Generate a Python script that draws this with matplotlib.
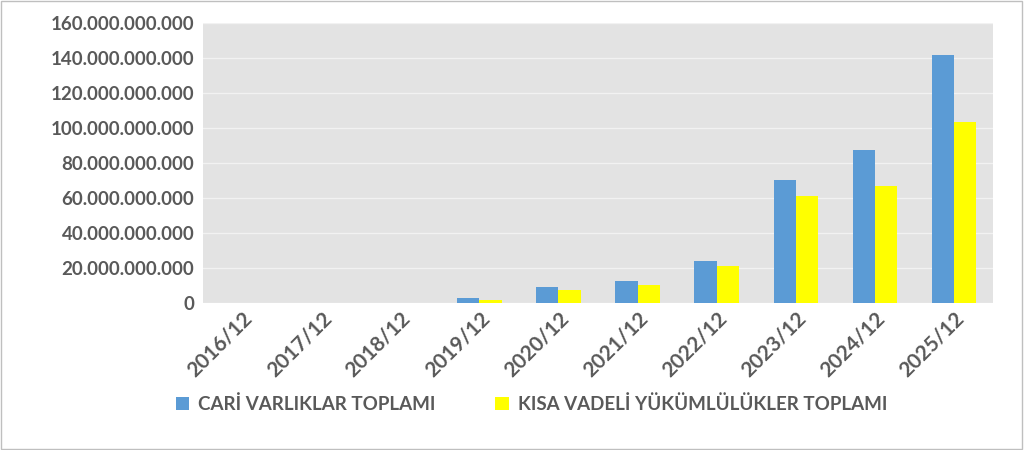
import matplotlib.pyplot as plt
import numpy as np
from matplotlib.ticker import FuncFormatter

# Data
years = ["2016/12", "2017/12", "2018/12", "2019/12", "2020/12",
         "2021/12", "2022/12", "2023/12", "2024/12", "2025/12"]
cari_varliklar = [0.05e9, 0.08e9, 0.12e9, 2.5e9, 9.1e9,
                  12.6e9, 24.0e9, 70.3e9, 87.4e9, 141.7e9]
kisa_vadeli = [0.05e9, 0.06e9, 0.1e9, 1.6e9, 7.4e9,
               10.3e9, 21.0e9, 61.0e9, 67.0e9, 103.4e9]
yticks = np.arange(0, 160e9 + 1, 20e9)

plt.rcParams['font.family'] = ['Lato', 'DejaVu Sans']
text_color = '#595959'

fig = plt.figure(figsize=(10.24, 4.5), dpi=100)
ax = fig.add_axes([0.198, 0.327, 0.772, 0.622])
fig.patches.append(plt.Rectangle((0.001, 0.002), 0.997, 0.995, transform=fig.transFigure,
                                 fill=False, edgecolor='#bfbfbf', linewidth=1))

x = np.arange(len(years))
w = 0.28
ax.bar(x - w / 2, cari_varliklar, w, color='#5B9BD5', label='CARİ VARLIKLAR TOPLAMI', zorder=3)
ax.bar(x + w / 2, kisa_vadeli, w, color='#FFFF00', label='KISA VADELİ YÜKÜMLÜLÜKLER TOPLAMI', zorder=3)

ax.set_facecolor('#e3e3e3')
ax.set_xlim(-0.5, len(years) - 0.5)
ax.set_ylim(0, 160e9)
ax.set_yticks(yticks)
ax.yaxis.set_major_formatter(FuncFormatter(lambda v, p: f"{int(v):,}".replace(",", ".")))
ax.grid(axis='y', color='#f2f2f2', linewidth=1, zorder=0)
for s in ax.spines.values():
    s.set_visible(False)
ax.tick_params(axis='y', length=0, labelsize=13.5, labelcolor=text_color, pad=6)
ax.tick_params(axis='x', length=0, labelsize=15, labelcolor=text_color, pad=4)
ax.set_xticks(x)
ax.set_xticklabels(years, rotation=45, ha='right', rotation_mode='anchor')
for lbl in ax.get_xticklabels() + ax.get_yticklabels():
    lbl.set_fontweight('bold')

leg = fig.legend(loc='lower left', bbox_to_anchor=(0.155, 0.045), ncol=2, frameon=False,
                 handlelength=0.7, handleheight=0.7, handletextpad=0.5, columnspacing=3.2,
                 prop={'size': 13.5, 'weight': 'bold'})
for t in leg.get_texts():
    t.set_color(text_color)

fig.savefig('out.png', dpi=100)
